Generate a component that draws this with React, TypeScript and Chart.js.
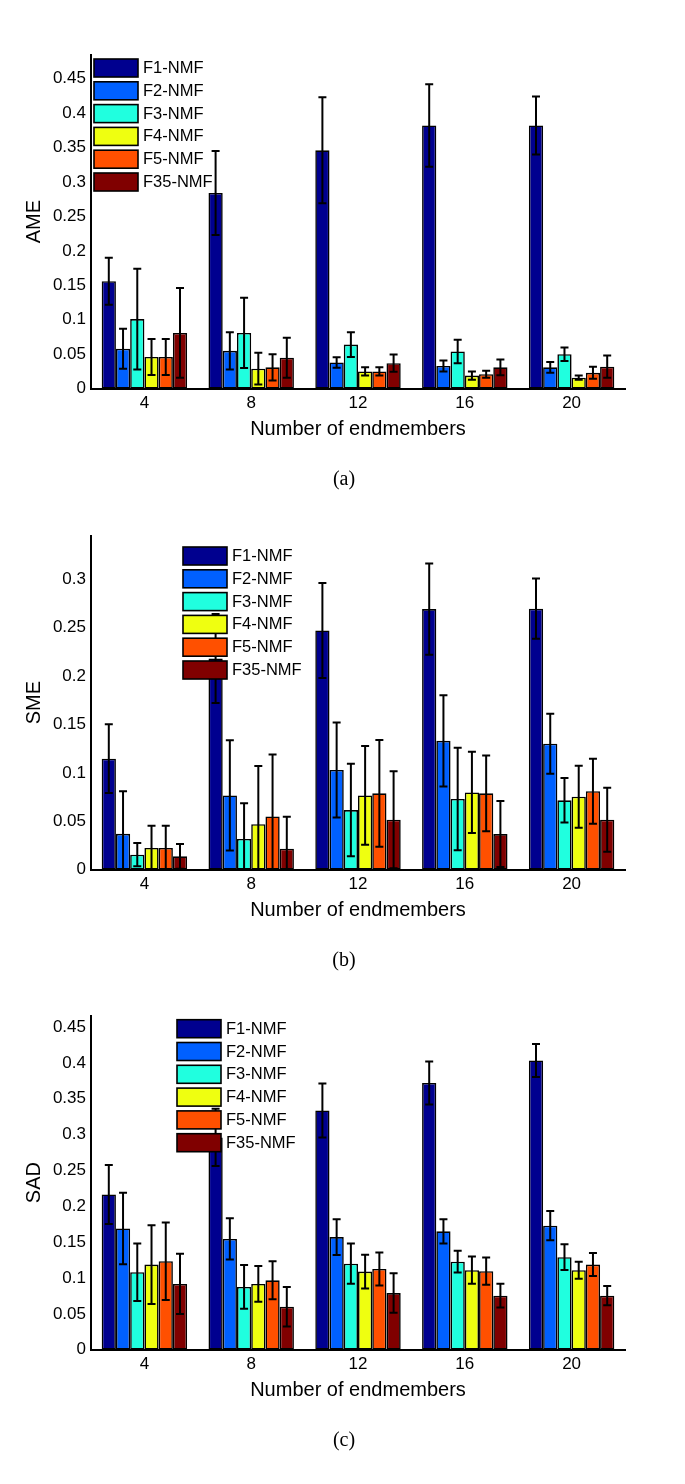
import React, { useEffect, useRef } from "react";
import { Chart, registerables } from "chart.js";

Chart.register(...registerables);

// ---------- data ----------
const categories = ["4", "8", "12", "16", "20"];
const seriesNames = ["F1-NMF", "F2-NMF", "F3-NMF", "F4-NMF", "F5-NMF", "F35-NMF"];
const seriesColors = [
  "rgb(0,0,143)",
  "rgb(0,96,255)",
  "rgb(32,255,223)",
  "rgb(239,255,16)",
  "rgb(255,80,0)",
  "rgb(128,0,0)",
];

// AME (panel a): one row per series, one value per category
const ameMean = [
  [0.156, 0.284, 0.346, 0.382, 0.382],
  [0.058, 0.055, 0.038, 0.033, 0.031],
  [0.101, 0.081, 0.064, 0.054, 0.05],
  [0.046, 0.029, 0.025, 0.019, 0.016],
  [0.046, 0.031, 0.025, 0.021, 0.023],
  [0.081, 0.045, 0.037, 0.031, 0.032],
];
const ameErr = [
  [0.034, 0.061, 0.077, 0.06, 0.042],
  [0.029, 0.027, 0.0075, 0.008, 0.0077],
  [0.073, 0.051, 0.018, 0.017, 0.0097],
  [0.026, 0.023, 0.006, 0.006, 0.003],
  [0.026, 0.019, 0.006, 0.005, 0.0087],
  [0.065, 0.029, 0.0125, 0.0115, 0.016],
];
const ameTicks = [0, 0.05, 0.1, 0.15, 0.2, 0.25, 0.3, 0.35, 0.4, 0.45];

// SME (panel b)
const smeMean = [
  [0.1146, 0.218, 0.247, 0.269, 0.2695],
  [0.037, 0.0767, 0.103, 0.133, 0.13],
  [0.0155, 0.0317, 0.0616, 0.073, 0.0716],
  [0.0224, 0.047, 0.0767, 0.0798, 0.0754],
  [0.0224, 0.055, 0.0788, 0.0788, 0.081],
  [0.0138, 0.0217, 0.0516, 0.0368, 0.0516],
];
const smeErr = [
  [0.0355, 0.046, 0.049, 0.047, 0.031],
  [0.044, 0.057, 0.049, 0.047, 0.031],
  [0.012, 0.037, 0.0477, 0.053, 0.023],
  [0.023, 0.06, 0.051, 0.042, 0.032],
  [0.023, 0.064, 0.055, 0.039, 0.0335],
  [0.0127, 0.033, 0.05, 0.034, 0.033],
];
const smeTicks = [0, 0.05, 0.1, 0.15, 0.2, 0.25, 0.3];

// SAD (panel c)
const sadMean = [
  [0.2164, 0.296, 0.3336, 0.372, 0.4034],
  [0.169, 0.1545, 0.157, 0.165, 0.173],
  [0.108, 0.0875, 0.12, 0.1228, 0.129],
  [0.1187, 0.0917, 0.109, 0.1108, 0.1108],
  [0.1233, 0.0968, 0.1126, 0.1094, 0.1187],
  [0.0917, 0.06, 0.079, 0.0754, 0.0754],
];
const sadErr = [
  [0.041, 0.04, 0.0377, 0.03, 0.023],
  [0.05, 0.0287, 0.025, 0.017, 0.0205],
  [0.04, 0.0305, 0.028, 0.015, 0.018],
  [0.055, 0.025, 0.0235, 0.019, 0.012],
  [0.054, 0.0265, 0.023, 0.019, 0.016],
  [0.042, 0.0275, 0.0275, 0.0165, 0.0135],
];
const sadTicks = [0, 0.05, 0.1, 0.15, 0.2, 0.25, 0.3, 0.35, 0.4, 0.45];

// ---------- layout constants ----------
const FONT = "'Liberation Sans', Arial, Helvetica, sans-serif";
const CANVAS_W = 685;
const CANVAS_H = 481;
const AREA_TOP = 54.5;
const AREA_BOTTOM = 388.7;
const AREA_LEFT = 91;
const AREA_RIGHT = 625;

const errorBarPlugin = {
  id: "errorBars",
  afterDatasetsDraw(chart: any, _args: any, opts: any) {
    const errs: number[][] = opts.errors;
    if (!errs) return;
    const ctx = chart.ctx;
    const yScale = chart.scales.y;
    const area = chart.chartArea;
    ctx.save();
    ctx.beginPath();
    ctx.rect(area.left, area.top - 2, area.right - area.left, area.bottom - area.top + 1);
    ctx.clip();
    ctx.strokeStyle = "#000";
    ctx.lineWidth = 2;
    chart.data.datasets.forEach((ds: any, d: number) => {
      const meta = chart.getDatasetMeta(d);
      meta.data.forEach((el: any, i: number) => {
        const v = ds.data[i];
        const e = errs[d][i];
        const yt = yScale.getPixelForValue(v + e);
        const yb = yScale.getPixelForValue(v - e);
        const x = el.x;
        const cap = 4;
        ctx.beginPath();
        ctx.moveTo(x, yt);
        ctx.lineTo(x, yb);
        ctx.moveTo(x - cap, yt);
        ctx.lineTo(x + cap, yt);
        ctx.moveTo(x - cap, yb);
        ctx.lineTo(x + cap, yb);
        ctx.stroke();
      });
    });
    ctx.restore();
  },
};

const legendPlugin = {
  id: "nmfLegend",
  afterDraw(chart: any, _args: any, opts: any) {
    const ctx = chart.ctx;
    const x0 = opts.x;
    const y0 = opts.y;
    const w = 44;
    const h = 18;
    const step = 22.8;
    ctx.save();
    ctx.font = `16.5px ${FONT}`;
    ctx.textBaseline = "middle";
    ctx.textAlign = "left";
    chart.data.datasets.forEach((ds: any, i: number) => {
      const y = y0 + i * step;
      ctx.fillStyle = ds.backgroundColor;
      ctx.fillRect(x0, y, w, h);
      ctx.strokeStyle = "#000";
      ctx.lineWidth = 1.6;
      ctx.strokeRect(x0, y, w, h);
      ctx.fillStyle = "#000";
      ctx.fillText(ds.label, x0 + w + 5, y + h / 2 + 0.5);
    });
    ctx.restore();
  },
};

type PanelProps = {
  top: number;
  yTitle: string;
  yMax: number;
  yTicks: number[];
  means: number[][];
  errs: number[][];
  legendX: number;
  legendY: number;
  caption: string;
};

function Panel(p: PanelProps) {
  const ref = useRef<HTMLCanvasElement | null>(null);
  useEffect(() => {
    if (!ref.current) return;
    const chart = new Chart(ref.current, {
      type: "bar",
      data: {
        labels: categories,
        datasets: seriesNames.map((name, i) => ({
          label: name,
          data: p.means[i],
          backgroundColor: seriesColors[i],
          borderColor: "#000",
          borderWidth: 1.6,
          borderSkipped: false,
          categoryPercentage: 0.8,
          barPercentage: 1,
        })),
      },
      options: {
        responsive: false,
        animation: false,
        events: [],
        layout: { padding: { left: 0, right: CANVAS_W - AREA_RIGHT, top: AREA_TOP, bottom: 0 } },
        plugins: {
          legend: { display: false },
          tooltip: { enabled: false },
          errorBars: { errors: p.errs },
          nmfLegend: { x: p.legendX, y: p.legendY },
        } as any,
        scales: {
          x: {
            type: "category",
            offset: true,
            grid: { display: false, drawTicks: false },
            border: { display: true, color: "#000", width: 2 },
            ticks: {
              color: "#000",
              font: { family: FONT, size: 17, lineHeight: 1.2 },
              padding: 4,
              maxRotation: 0,
            },
            title: {
              display: true,
              text: "Number of endmembers",
              color: "#000",
              font: { family: FONT, size: 20, lineHeight: 1.2 },
              padding: { top: 0, bottom: 40 },
            },
            afterFit: (s: any) => {
              s.height = CANVAS_H - AREA_BOTTOM;
            },
          },
          y: {
            type: "linear",
            min: 0,
            max: p.yMax,
            grid: { display: false, drawTicks: false },
            border: { display: true, color: "#000", width: 2 },
            ticks: {
              color: "#000",
              font: { family: FONT, size: 17 },
              padding: 5,
              callback: (v: any) => String(+Number(v).toFixed(3)),
            },
            afterBuildTicks: (s: any) => {
              s.ticks = p.yTicks.map((v) => ({ value: v }));
            },
            title: {
              display: true,
              text: p.yTitle,
              color: "#000",
              font: { family: FONT, size: 20, lineHeight: 1.2 },
              padding: { top: 22.5, bottom: 0 },
            },
            afterFit: (s: any) => {
              s.width = AREA_LEFT;
            },
          },
        },
      } as any,
      plugins: [errorBarPlugin, legendPlugin] as any,
    });
    return () => chart.destroy();
  }, []);

  return (
    <>
      <canvas
        ref={ref}
        width={CANVAS_W}
        height={CANVAS_H}
        style={{ position: "absolute", left: 0, top: p.top, width: CANVAS_W, height: CANVAS_H }}
      />
      <div
        style={{
          position: "absolute",
          left: 344,
          top: p.top + 466,
          transform: "translateX(-50%)",
          fontFamily: "'Liberation Serif', 'Times New Roman', serif",
          fontSize: 20,
          lineHeight: "24px",
          color: "#000",
          whiteSpace: "nowrap",
        }}
      >
        {p.caption}
      </div>
    </>
  );
}

export default function App() {
  return (
    <div
      style={{
        position: "absolute",
        left: 0,
        top: 0,
        width: 685,
        height: 1484,
        background: "#fff",
        overflow: "hidden",
      }}
    >
      <Panel
        top={0}
        yTitle="AME"
        yMax={0.485}
        yTicks={ameTicks}
        means={ameMean}
        errs={ameErr}
        legendX={94}
        legendY={59}
        caption="(a)"
      />
      <Panel
        top={480.6}
        yTitle="SME"
        yMax={0.345}
        yTicks={smeTicks}
        means={smeMean}
        errs={smeErr}
        legendX={183}
        legendY={66}
        caption="(b)"
      />
      <Panel
        top={961.3}
        yTitle="SAD"
        yMax={0.466}
        yTicks={sadTicks}
        means={sadMean}
        errs={sadErr}
        legendX={177}
        legendY={58.7}
        caption="(c)"
      />
    </div>
  );
}
